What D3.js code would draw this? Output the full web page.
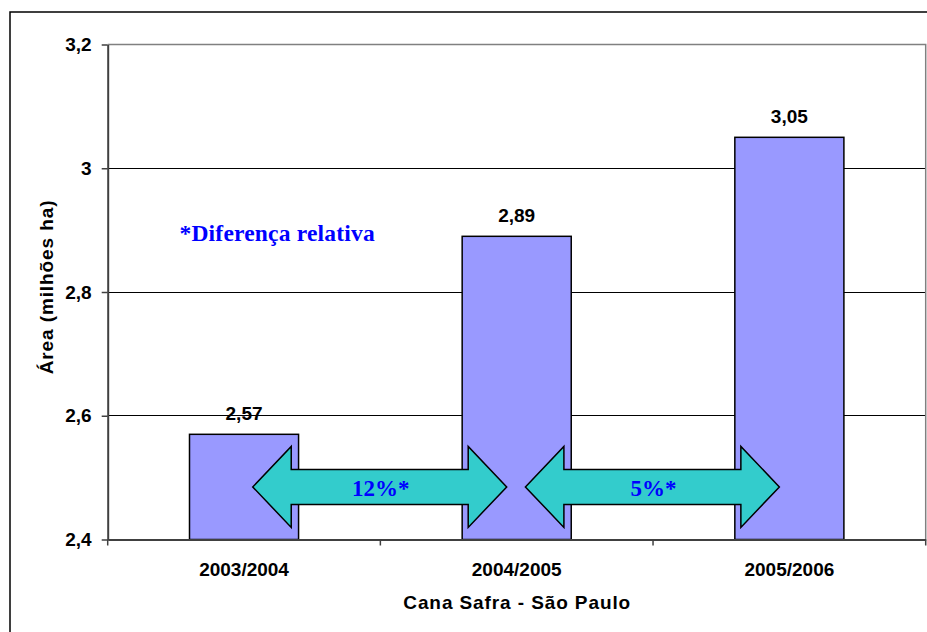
<!DOCTYPE html>
<html>
<head>
<meta charset="utf-8">
<script src="https://cdn.jsdelivr.net/npm/d3@7"></script>
<style>
  html, body { margin: 0; padding: 0; background: #ffffff; }
  svg { display: block; }
</style>
</head>
<body>
<svg id="chart" width="927" height="632"></svg>
<script>
// ---- data ----
const categories = ["2003/2004", "2004/2005", "2005/2006"];
const values = [2.57, 2.89, 3.05];
const yTicks = [2.4, 2.6, 2.8, 3.0, 3.2];
const diffLabels = ["12%*", "5%*"];
const diffLevel = 2.485;
const yTitle = "Área (milhões ha)";
const xTitle = "Cana Safra - São Paulo";
const noteText = "*Diferença relativa";

// ---- setup ----
const svg = d3.select("#chart");
const W = 927, H = 632;
const plot = { left: 107.7, right: 925.7, top: 44.5, bottom: 539.5 };
const locale = d3.formatLocale({ decimal: ",", thousands: ".", grouping: [3], currency: ["", ""] });
const fmtTick = locale.format(".1~f");
const fmtVal = locale.format(".2f");
const sans = "'Liberation Sans', Arial, sans-serif";
const serif = "'Liberation Serif', 'Times New Roman', serif";

svg.append("rect").attr("width", W).attr("height", H).attr("fill", "#fff");
// outer chart frame
svg.append("rect").attr("x", 10).attr("y", 12).attr("width", 1000).attr("height", 1000)
  .attr("fill", "none").attr("stroke", "#000").attr("stroke-width", 1.5);

const x = d3.scaleBand().domain(categories).range([plot.left, plot.right])
  .paddingInner(0.6).paddingOuter(0.3);
const y = d3.scaleLinear().domain([2.4, 3.2]).range([plot.bottom, plot.top]);

// gridlines
svg.append("g").selectAll("line").data(yTicks.filter(d => d > 2.4 && d < 3.2)).join("line")
  .attr("x1", plot.left).attr("x2", plot.right)
  .attr("y1", d => y(d)).attr("y2", d => y(d))
  .attr("stroke", "#000").attr("stroke-width", 1)
  .attr("shape-rendering", "crispEdges");
// plot border (top + right) gray
svg.append("path")
  .attr("d", `M${plot.left},${y(3.2)}H${plot.right}V${plot.bottom}`)
  .attr("fill", "none").attr("stroke", "#808080").attr("stroke-width", 1.5);

// bars
svg.append("g").selectAll("rect").data(values).join("rect")
  .attr("x", (d, i) => x(categories[i]))
  .attr("width", x.bandwidth())
  .attr("y", d => y(d))
  .attr("height", d => y(2.4) - y(d))
  .attr("fill", "#9999FF").attr("stroke", "#000").attr("stroke-width", 1.5);

// value labels
svg.append("g").selectAll("text").data(values).join("text")
  .attr("x", (d, i) => x(categories[i]) + x.bandwidth() / 2)
  .attr("y", d => y(d) - 14.5)
  .attr("text-anchor", "middle")
  .attr("font-family", sans).attr("font-weight", "bold").attr("font-size", 19)
  .attr("fill", "#000")
  .text(d => fmtVal(d));

// y axis
const yAxis = svg.append("g").attr("transform", `translate(${plot.left},0)`)
  .call(d3.axisLeft(y).tickValues(yTicks).tickFormat(fmtTick).tickSizeInner(6).tickSizeOuter(0).tickPadding(10));
yAxis.select(".domain").attr("stroke", "#404040").attr("stroke-width", 2);
yAxis.selectAll(".tick line").attr("stroke", "#404040").attr("stroke-width", 1.5);
yAxis.selectAll("text").attr("font-family", sans).attr("font-weight", "bold")
  .attr("font-size", 19).attr("fill", "#000");

// x axis
const step = x.step();
const boundaries = d3.range(categories.length + 1).map(i => plot.left + i * step);
const xAxis = svg.append("g").attr("transform", `translate(0,${plot.bottom})`)
  .call(d3.axisBottom(x).tickSize(0).tickPadding(22.7));
xAxis.select(".domain").attr("stroke", "#404040").attr("stroke-width", 2);
xAxis.selectAll("text").attr("font-family", sans).attr("font-weight", "bold")
  .attr("font-size", 19).attr("fill", "#000");
xAxis.selectAll("line.bnd").data(boundaries).join("line").attr("class", "bnd")
  .attr("x1", d => d).attr("x2", d => d).attr("y1", 0).attr("y2", 6)
  .attr("stroke", "#404040").attr("stroke-width", 1.5);

// axis titles
svg.append("text")
  .attr("x", (plot.left + plot.right) / 2 + 0.5).attr("y", 609.3)
  .attr("text-anchor", "middle")
  .attr("font-family", sans).attr("font-weight", "bold").attr("font-size", 19)
  .attr("letter-spacing", 0.9)
  .text(xTitle);
svg.append("text")
  .attr("transform", `translate(53,${(plot.top + plot.bottom) / 2 - 5}) rotate(-90)`)
  .attr("text-anchor", "middle")
  .attr("font-family", sans).attr("font-weight", "bold").attr("font-size", 19)
  .attr("letter-spacing", 0.9)
  .text(yTitle);

// note text
svg.append("text")
  .attr("x", 179.5).attr("y", 240.5)
  .attr("font-family", serif).attr("font-weight", "bold").attr("font-size", 23.5)
  .attr("letter-spacing", 0.2)
  .attr("fill", "#0000FF")
  .text(noteText);

// double arrows between consecutive bars
const headHalf = 40.5, shaftHalf = 17.5, headLen = 38.5;
diffLabels.forEach((lab, i) => {
  const c0 = x(categories[i]) + x.bandwidth() / 2;
  const c1 = x(categories[i + 1]) + x.bandwidth() / 2;
  const x0 = c0 + 8.7, x1 = c1 - 10;
  const cy = y(diffLevel);
  const p = [
    [x0, cy],
    [x0 + headLen, cy - headHalf],
    [x0 + headLen, cy - shaftHalf],
    [x1 - headLen, cy - shaftHalf],
    [x1 - headLen, cy - headHalf],
    [x1, cy],
    [x1 - headLen, cy + headHalf],
    [x1 - headLen, cy + shaftHalf],
    [x0 + headLen, cy + shaftHalf],
    [x0 + headLen, cy + headHalf]
  ];
  svg.append("path")
    .attr("d", "M" + p.map(q => q.join(",")).join("L") + "Z")
    .attr("fill", "#33CCCC").attr("stroke", "#000").attr("stroke-width", 1.5)
    .attr("stroke-linejoin", "miter");
  svg.append("text")
    .attr("x", (x0 + x1) / 2 + 1).attr("y", cy + 9)
    .attr("text-anchor", "middle")
    .attr("font-family", serif).attr("font-weight", "bold").attr("font-size", 23)
    .attr("fill", "#0000FF")
    .text(lab);
});
</script>
</body>
</html>
